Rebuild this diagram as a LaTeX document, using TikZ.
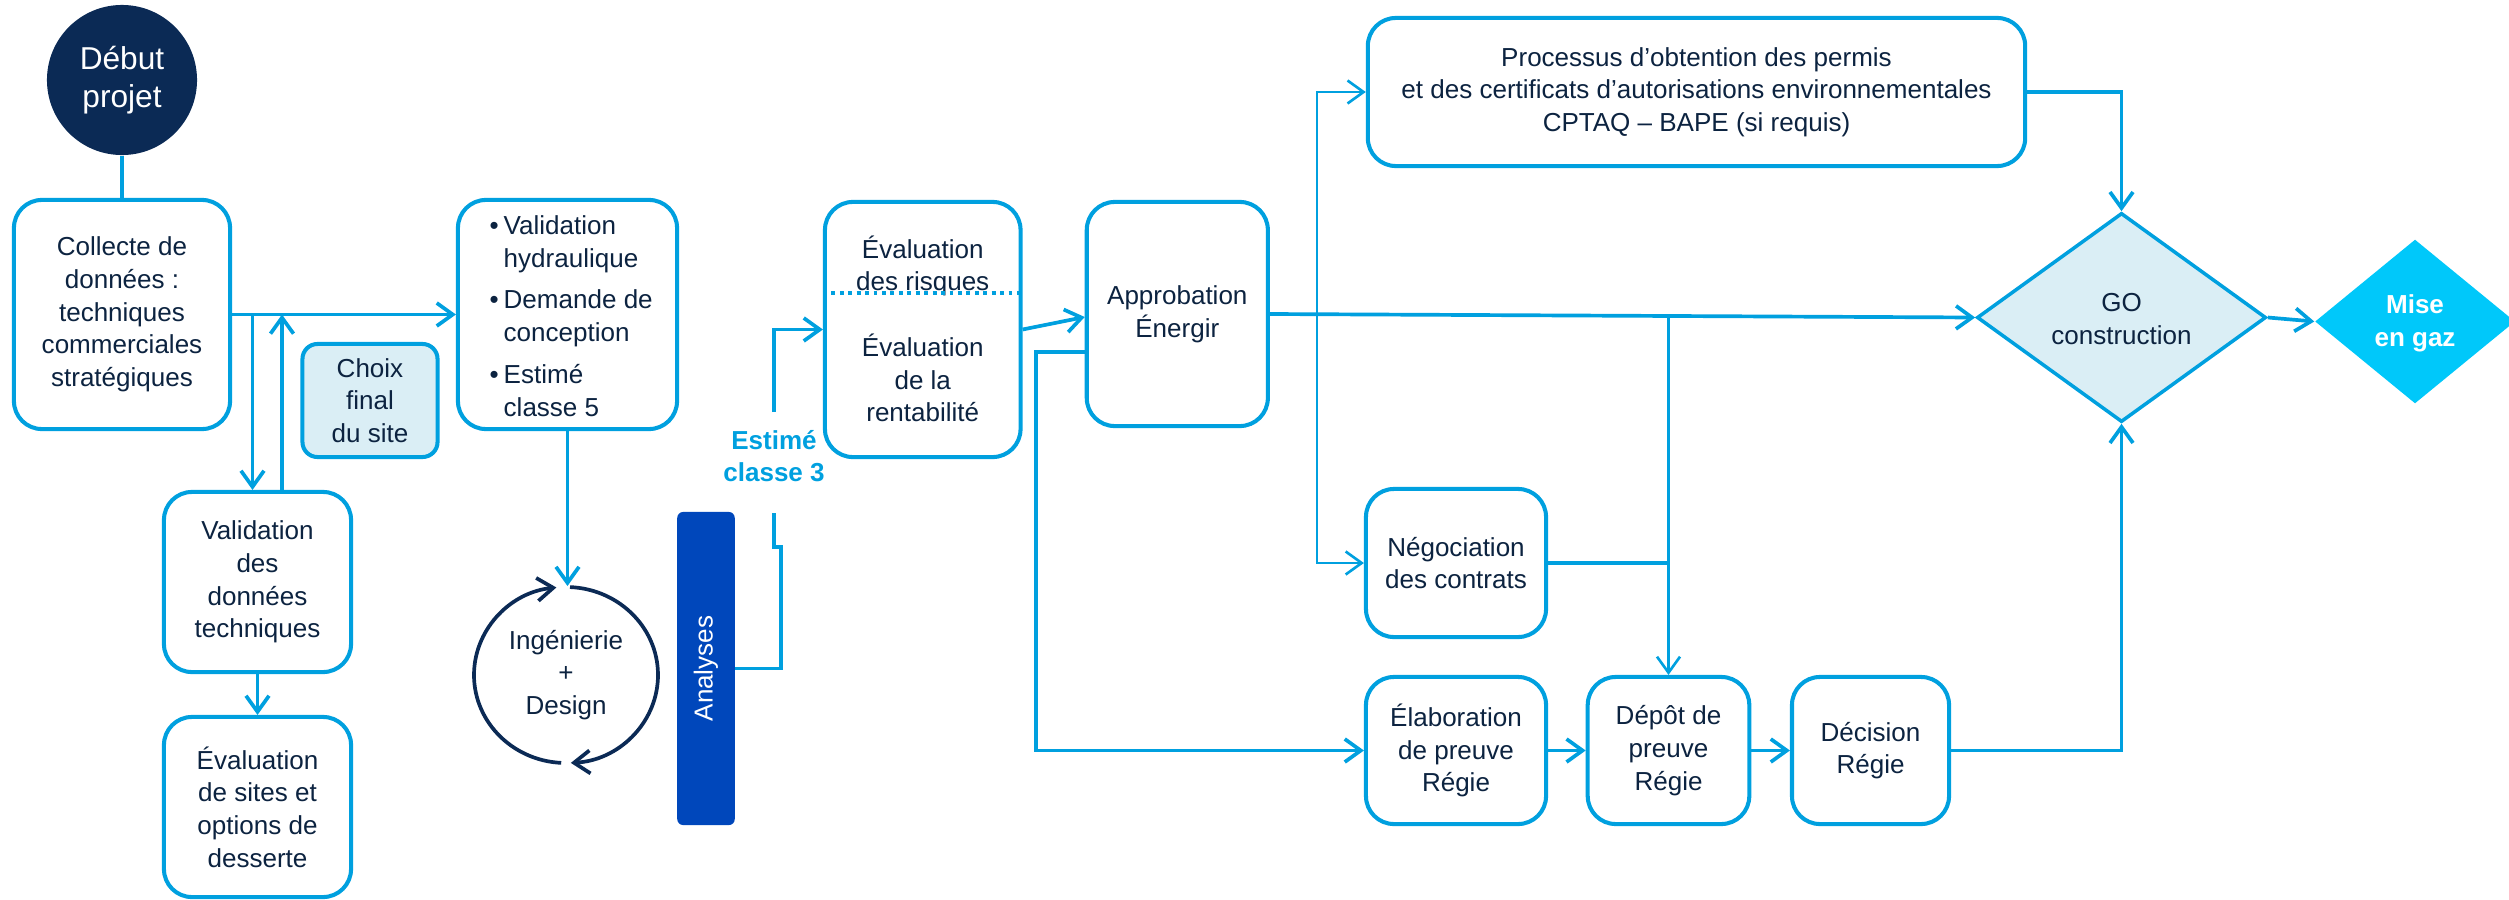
\documentclass[tikz,border=0pt]{standalone}
\usepackage{fontspec}
\setmainfont{Liberation Sans}
\usetikzlibrary{arrows.meta,shapes.geometric,calc}
\definecolor{lblue}{HTML}{00A0DF}
\definecolor{navy}{HTML}{0B2A55}
\definecolor{txt}{HTML}{0C2340}
\definecolor{pale}{HTML}{DAEEF5}
\definecolor{royal}{HTML}{0047BB}
\definecolor{cyantwo}{HTML}{00C8FA}
\newcommand\mytxt{\fontsize{7.4}{9.3}\selectfont}
\newcommand\mybul{\makebox[0.14cm][l]{•}}
\newcommand\myind{\hspace*{0.14cm}}
\begin{document}
\begin{tikzpicture}[x=0.01cm,y=-0.01cm,
  box/.style={draw=lblue, line width=1.15pt, rounded corners=0.28cm, fill=white, text=txt, align=center, inner sep=0pt, font=\mytxt},
  lbl/.style={text=txt, align=center, inner sep=0pt, font=\mytxt},
  conn/.style={draw=lblue, line width=1.05pt},
  thin/.style={draw=lblue, line width=0.75pt},
  tipa/.style={-{Straight Barb[length=1.6mm,width=2.3mm]}},
  arr/.style={conn, tipa},
  arrthin/.style={thin, tipa},
  navyarr/.style={draw=navy, line width=1.05pt, -{Straight Barb[length=1.6mm,width=2.3mm]}}]
\useasboundingbox (0,0) rectangle (2509,900);

% nodes
\node[circle, fill=navy, text=white, minimum size=1.5cm, inner sep=0pt, align=center, font=\fontsize{9}{10.8}\selectfont] (debut) at (122,80) {Début\\projet};
\node[box, minimum width=2.16cm, minimum height=2.29cm] (collecte) at (122,314.5) {Collecte de\\données :\\techniques\\commerciales\\stratégiques};
\node[box, fill=pale, rounded corners=0.15cm, minimum width=1.35cm, minimum height=1.13cm] (choix) at (370,400.5) {Choix\\final\\du site};
\node[box, minimum width=2.19cm, minimum height=2.29cm] (valhyd) at (567.5,314.5) {};
\node[lbl, anchor=west, align=left] (valhydtxt) at (489,316) {\mybul Validation\\\myind hydraulique\\[0.09cm]\mybul Demande de\\\myind conception\\[0.09cm]\mybul Estimé\\\myind classe 5};
\node[box, minimum width=1.87cm, minimum height=1.80cm] (valdon) at (257.5,582) {Validation\\des\\données\\techniques};
\node[box, minimum width=1.87cm, minimum height=1.80cm] (evalsites) at (257.5,807) {Évaluation\\de sites et\\options de\\desserte};
\node[lbl] (ing) at (566,675) {Ingénierie\\+\\Design};
\node[fill=royal, rounded corners=0.06cm, minimum width=0.575cm, minimum height=3.13cm, inner sep=0pt] (analyses) at (706,668.5) {};
\node[rotate=90, text=white, inner sep=0pt, font=\fontsize{7.4}{9}\selectfont] (analysestxt) at (analyses.center) {Analyses};
\node[text=lblue, align=center, inner sep=0pt, font=\bfseries\fontsize{7.4}{8.9}\selectfont] (estlbl) at (774,456) {Estimé\\classe 3};
\node[box, minimum width=1.955cm, minimum height=2.55cm] (eval) at (922.75,329.5) {};
\node[lbl] (evaltop) at (922.75,266) {Évaluation\\des risques};
\node[lbl] (evalbot) at (922.75,378) {Évaluation\\de la\\rentabilité};
\node[box, minimum width=1.81cm, minimum height=2.24cm] (appr) at (1177.3,314) {Approbation\\Énergir};
\node[box, minimum width=6.57cm, minimum height=1.48cm] (proc) at (1696.5,92) {Processus d’obtention des permis\\et des certificats d’autorisations environnementales\\CPTAQ – BAPE (si requis)};
\node[box, minimum width=1.80cm, minimum height=1.48cm] (nego) at (1456,563) {Négociation\\des contrats};
\node[box, minimum width=1.80cm, minimum height=1.47cm] (elab) at (1456,750.5) {Élaboration\\de preuve\\Régie};
\node[box, minimum width=1.615cm, minimum height=1.47cm] (depot) at (1668.5,750.5) {Dépôt de\\preuve\\Régie};
\node[box, minimum width=1.57cm, minimum height=1.47cm] (decision) at (1870.5,750.5) {Décision\\Régie};
\node[diamond, draw=lblue, line width=1.0pt, fill=pale, minimum width=2.89cm, minimum height=2.09cm, inner sep=0pt] (go) at (2121.5,317.5) {};
\node[lbl] (gotxt) at (2121.5,319) {GO\\construction};
\node[diamond, fill=cyantwo, minimum width=2.0cm, minimum height=1.64cm, inner sep=0pt] (mise) at (2415,321.5) {};
\node[text=white, align=center, inner sep=0pt, font=\bfseries\fontsize{7.4}{9.3}\selectfont] (misetxt) at (2415,323) {Mise\\en gaz};

% helper coordinates
\coordinate (j1) at (252.5,314.5);
\coordinate (j2) at (282,314.5);
\coordinate (ingtop) at (566,586);
\coordinate (est1) at (774,513);
\coordinate (est2) at (774,412);
\coordinate (dl) at (0,293);
\coordinate (b1) at (1317,314.3);

% connectors
\draw[conn] (debut) -- (collecte);
\draw[arr] (collecte) -- (valhyd);
\draw[arr] (j1) -- (j1 |- valdon.north);
\draw[arr] (j2 |- valdon.north) -- (j2);
\draw[arr] (valdon) -- (evalsites);
\draw[arr] (valhyd.south) -- (valhyd.south |- ingtop);
% ingenierie cycle
\draw[navyarr] (ing.center) ++(93:92 and 88) arc[start angle=93, end angle=264, x radius=92, y radius=88];
\draw[navyarr] (ing.center) ++(-87.5:92 and 88) arc[start angle=-87.5, end angle=87, x radius=92, y radius=88];
% analyses -> estime -> evaluation
\draw[conn] (analyses.east) -| (781,547) -- (774,547) -- (est1);
\draw[arr] (est2) |- (eval.west);
\draw[conn, dash pattern=on 1.1pt off 1.3pt] (eval.west |- dl) -- (eval.east |- dl);
\draw[arr] (eval.east) -- ([yshift=-0.03cm]appr.west);
\draw[arr] (appr.east) -- (go.west);
\draw[arrthin] (b1) |- (proc.west);
\draw[arrthin] (b1) |- (nego.west);
\draw[arr] ([yshift=-0.38cm]appr.west) -- ++(-49,0) |- (elab.west);
\draw[arr] (proc.east) -| (go.north);
\draw[conn] (nego.east) -- (nego.east -| depot.north);
\draw[arrthin] (depot.north |- appr.east) -- (depot.north);
\draw[arr] (elab) -- (depot);
\draw[arr] (depot) -- (decision);
\draw[arr] (decision.east) -| (go.south);
\draw[arr] (go.east) -- (mise.west);
\end{tikzpicture}
\end{document}
